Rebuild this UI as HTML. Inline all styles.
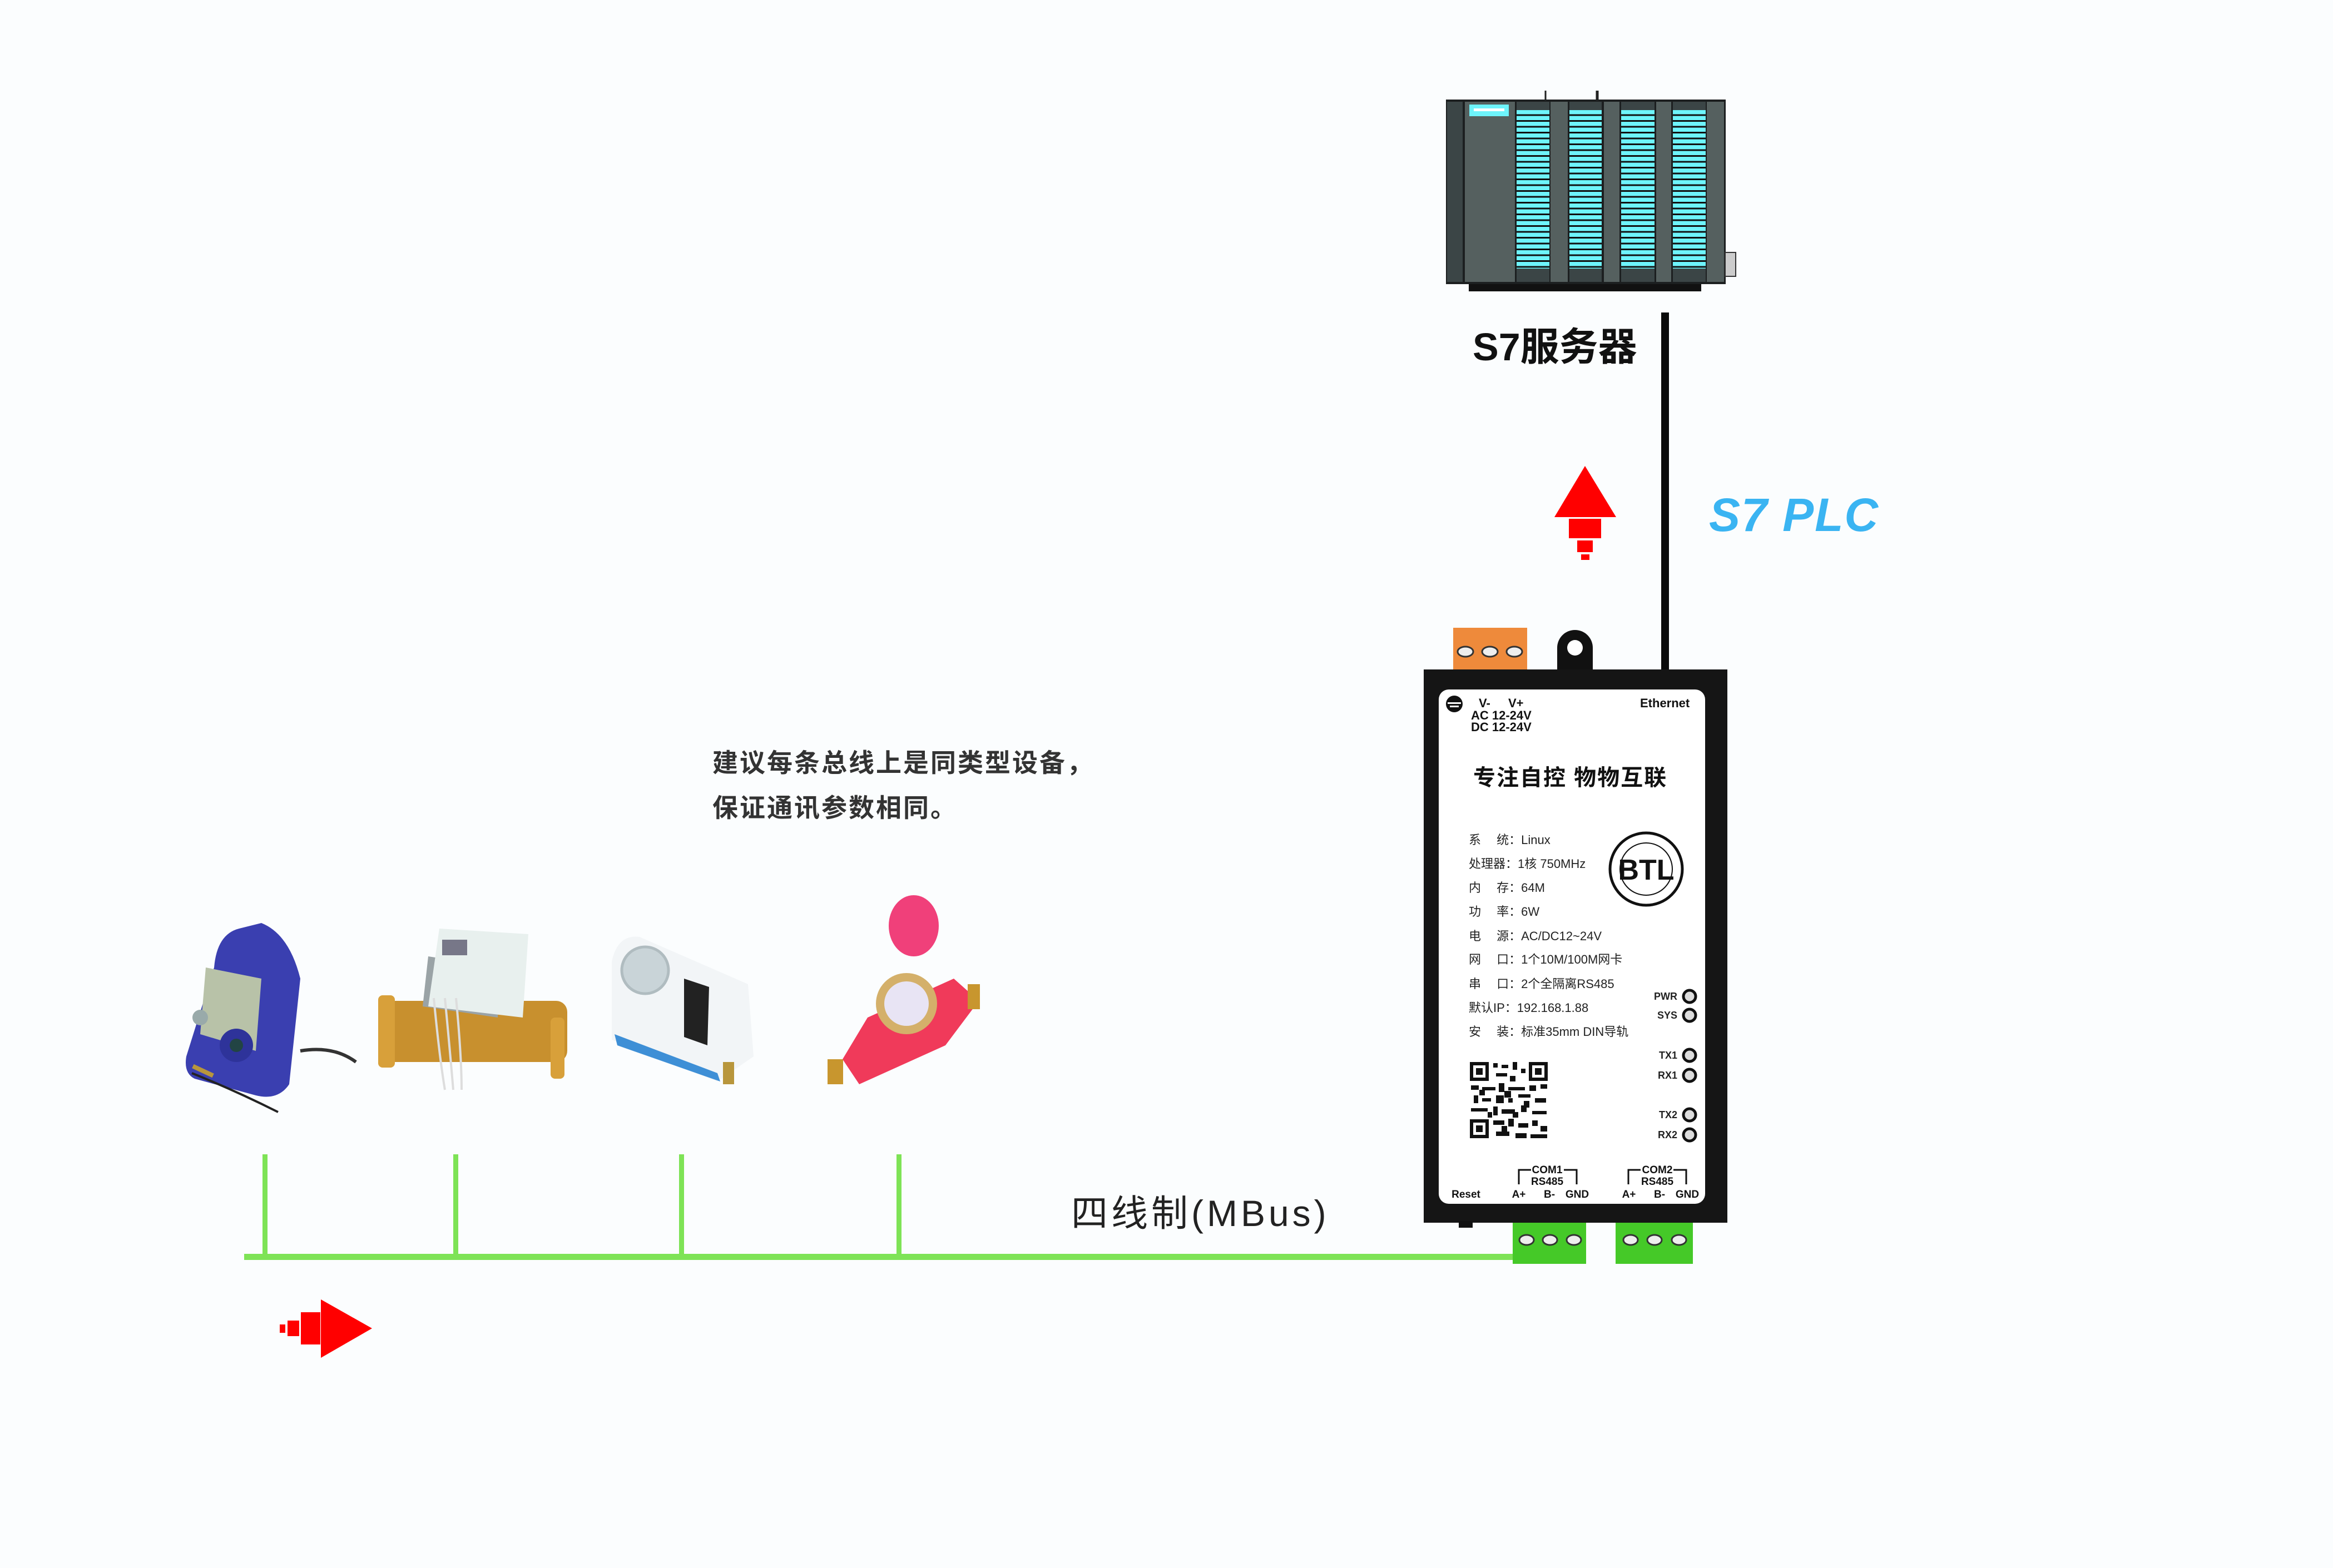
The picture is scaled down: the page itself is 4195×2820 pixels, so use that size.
<!DOCTYPE html>
<html><head><meta charset="utf-8">
<style>
html,body{margin:0;padding:0;background:#fbfdfe;}
svg{display:block;}
text{font-family:"Liberation Sans","Noto Sans CJK SC",sans-serif;}
</style></head>
<body>
<svg width="4195" height="2820" viewBox="0 0 4195 2820" xmlns="http://www.w3.org/2000/svg">
<rect width="4195" height="2820" fill="#fbfdfe"/>
<defs>
<pattern id="stripe" x="0" y="198" width="10" height="10.5" patternUnits="userSpaceOnUse">
<rect width="10" height="10.5" fill="#111"/><rect y="0" width="10" height="7.5" fill="#6ef4fb"/>
</pattern>
</defs>

<!-- PLC rack -->
<line x1="2779" y1="163" x2="2779" y2="180" stroke="#222" stroke-width="3"/>
<line x1="2872" y1="163" x2="2872" y2="180" stroke="#222" stroke-width="5"/>
<rect x="2641" y="510" width="418" height="14" fill="#111"/>
<rect x="2600" y="179" width="503" height="332" fill="#1c1f20"/>
<rect x="2602" y="183" width="28" height="324" fill="#3b4546"/>
<rect x="2634" y="183" width="90" height="324" fill="#55605f"/>
<rect x="2642" y="188" width="71" height="21" fill="#6ef4fb"/>
<rect x="2650" y="195" width="55" height="5" fill="#fff"/>
<g>
<rect x="2727" y="183" width="59" height="324" fill="#3b4546"/>
<rect x="2727" y="198" width="59" height="285" fill="url(#stripe)"/>
<rect x="2788" y="183" width="31" height="324" fill="#55605f"/>
<rect x="2822" y="183" width="58" height="324" fill="#3b4546"/>
<rect x="2822" y="198" width="58" height="285" fill="url(#stripe)"/>
<rect x="2884" y="183" width="28" height="324" fill="#55605f"/>
<rect x="2915" y="183" width="60" height="324" fill="#3b4546"/>
<rect x="2915" y="198" width="60" height="285" fill="url(#stripe)"/>
<rect x="2978" y="183" width="27" height="324" fill="#55605f"/>
<rect x="3008" y="183" width="59" height="324" fill="#3b4546"/>
<rect x="3008" y="198" width="59" height="285" fill="url(#stripe)"/>
<rect x="3069" y="183" width="31" height="324" fill="#55605f"/>
</g>
<rect x="3102" y="454" width="19" height="43" fill="#ccc" stroke="#333" stroke-width="2"/>
<text x="2648" y="648" font-size="70" font-weight="bold" fill="#111">S7服务器</text>

<!-- Ethernet line -->
<rect x="2987" y="562" width="14" height="645" fill="#0a0a0a"/>
<text x="3073" y="955" font-size="84" font-weight="bold" font-style="italic" fill="#3ab4f2" letter-spacing="2">S7 PLC</text>

<!-- red up arrow -->
<g fill="#f00">
<polygon points="2850,838 2906,930 2795,930"/>
<rect x="2821" y="933" width="58" height="35"/>
<rect x="2836" y="972" width="28" height="21"/>
<rect x="2843" y="997" width="15" height="10"/>
</g>

<!-- device -->
<rect x="2613" y="1129" width="133" height="76" fill="#ee8a3b"/>
<g fill="#eee" stroke="#333" stroke-width="3">
<ellipse cx="2635" cy="1172" rx="14" ry="9"/><ellipse cx="2679" cy="1172" rx="14" ry="9"/><ellipse cx="2723" cy="1172" rx="14" ry="9"/>
</g>
<path d="M2800,1205 L2800,1165 A32,32 0 0 1 2864,1165 L2864,1205 Z" fill="#111"/>
<circle cx="2832" cy="1165" r="14" fill="#fff"/>
<rect x="2560" y="1204" width="546" height="995" fill="#151515"/>
<rect x="2587" y="1240" width="479" height="925" rx="18" fill="#fff"/>
<rect x="2623" y="2196" width="25" height="12" fill="#111"/>

<g fill="#111" font-weight="bold">
<circle cx="2615" cy="1266" r="15" fill="#111"/>
<rect x="2603" y="1263" width="24" height="3" fill="#fff"/><rect x="2607" y="1269" width="16" height="3" fill="#fff"/>
<text x="2659" y="1272" font-size="22">V-</text><text x="2712" y="1272" font-size="22">V+</text>
<text x="2645" y="1294" font-size="22">AC 12-24V</text>
<text x="2645" y="1315" font-size="22">DC 12-24V</text>
<text x="2949" y="1272" font-size="22">Ethernet</text>
<text x="2649" y="1412" font-size="40" letter-spacing="2">专注自控 物物互联</text>
</g>
<g fill="#222" font-size="22">
<text x="2641" y="1518">系　 统：Linux</text>
<text x="2641" y="1561">处理器：1核 750MHz</text>
<text x="2641" y="1604">内　 存：64M</text>
<text x="2641" y="1647">功　 率：6W</text>
<text x="2641" y="1691">电　 源：AC/DC12~24V</text>
<text x="2641" y="1733">网　 口：1个10M/100M网卡</text>
<text x="2641" y="1777">串　 口：2个全隔离RS485</text>
<text x="2641" y="1820">默认IP：192.168.1.88</text>
<text x="2641" y="1863">安　 装：标准35mm DIN导轨</text>
</g>
<!-- BTL -->
<circle cx="2960" cy="1563" r="65" fill="none" stroke="#111" stroke-width="5"/>
<circle cx="2960" cy="1563" r="47" fill="none" stroke="#111" stroke-width="2"/>
<text x="2960" y="1582" font-size="52" font-weight="bold" text-anchor="middle" fill="#111">BTL</text>
<!-- QR -->
<rect x="2643" y="1910" width="140" height="137" fill="#fff"/>
<g fill="#111">
<rect x="2643" y="1910" width="34" height="34"/><rect x="2649" y="1916" width="22" height="22" fill="#fff"/><rect x="2654" y="1921" width="12" height="12"/>
<rect x="2749" y="1910" width="34" height="34"/><rect x="2755" y="1916" width="22" height="22" fill="#fff"/><rect x="2760" y="1921" width="12" height="12"/>
<rect x="2643" y="2013" width="34" height="34"/><rect x="2649" y="2019" width="22" height="22" fill="#fff"/><rect x="2654" y="2024" width="12" height="12"/>
<rect x="2685" y="1912" width="8" height="8"/><rect x="2700" y="1915" width="12" height="6"/><rect x="2720" y="1910" width="8" height="14"/><rect x="2735" y="1922" width="8" height="8"/>
<rect x="2690" y="1930" width="20" height="6"/><rect x="2715" y="1935" width="10" height="10"/><rect x="2645" y="1952" width="14" height="8"/>
<rect x="2665" y="1955" width="24" height="6"/><rect x="2695" y="1948" width="10" height="16"/><rect x="2712" y="1955" width="30" height="6"/>
<rect x="2750" y="1952" width="12" height="10"/><rect x="2770" y="1950" width="12" height="8"/><rect x="2650" y="1970" width="8" height="14"/>
<rect x="2665" y="1975" width="16" height="6"/><rect x="2690" y="1970" width="14" height="14"/><rect x="2712" y="1975" width="8" height="8"/>
<rect x="2730" y="1968" width="22" height="6"/><rect x="2760" y="1975" width="20" height="8"/><rect x="2645" y="1993" width="30" height="6"/>
<rect x="2685" y="1990" width="8" height="16"/><rect x="2700" y="1995" width="24" height="8"/><rect x="2735" y="1988" width="10" height="12"/>
<rect x="2755" y="1998" width="26" height="6"/><rect x="2685" y="2015" width="20" height="8"/><rect x="2712" y="2012" width="10" height="14"/>
<rect x="2730" y="2020" width="18" height="8"/><rect x="2755" y="2015" width="10" height="10"/><rect x="2770" y="2025" width="12" height="10"/>
<rect x="2690" y="2035" width="24" height="8"/><rect x="2725" y="2038" width="20" height="9"/><rect x="2752" y="2040" width="30" height="7"/>
<rect x="2660" y="1960" width="10" height="10"/><rect x="2705" y="1962" width="12" height="12"/><rect x="2740" y="1980" width="10" height="12"/>
<rect x="2675" y="2000" width="8" height="10"/><rect x="2720" y="2000" width="10" height="10"/><rect x="2700" y="2025" width="10" height="10"/>
</g>
<!-- LEDs -->
<g font-size="18" font-weight="bold" fill="#222" text-anchor="end">
<text x="3016" y="1798">PWR</text><text x="3016" y="1832">SYS</text>
<text x="3016" y="1904">TX1</text><text x="3016" y="1940">RX1</text>
<text x="3016" y="2011">TX2</text><text x="3016" y="2047">RX2</text>
</g>
<g fill="#ddd" stroke="#111" stroke-width="5">
<circle cx="3038" cy="1792" r="11"/><circle cx="3038" cy="1826" r="11"/>
<circle cx="3038" cy="1898" r="11"/><circle cx="3038" cy="1934" r="11"/>
<circle cx="3038" cy="2005" r="11"/><circle cx="3038" cy="2041" r="11"/>
</g>
<!-- COM labels -->
<g fill="none" stroke="#111" stroke-width="3">
<path d="M2731,2130 V2104 H2753 M2812,2104 H2835 V2130"/>
<path d="M2928,2130 V2104 H2950 M3009,2104 H3032 V2130"/>
</g>
<g font-size="19" font-weight="bold" fill="#111" text-anchor="middle">
<text x="2782" y="2110">COM1</text><text x="2782" y="2131">RS485</text>
<text x="2980" y="2110">COM2</text><text x="2980" y="2131">RS485</text>
<text x="2636" y="2154">Reset</text>
<text x="2731" y="2154">A+</text><text x="2786" y="2154">B-</text><text x="2836" y="2154">GND</text>
<text x="2929" y="2154">A+</text><text x="2984" y="2154">B-</text><text x="3034" y="2154">GND</text>
</g>

<!-- green bus -->
<rect x="439" y="2255" width="2285" height="11" fill="#7ee356"/>
<g fill="#7ee356">
<rect x="472" y="2076" width="9" height="182"/>
<rect x="815" y="2076" width="9" height="182"/>
<rect x="1221" y="2076" width="9" height="182"/>
<rect x="1612" y="2076" width="9" height="182"/>
</g>
<!-- green terminals -->
<rect x="2720" y="2199" width="132" height="74" fill="#45c928"/>
<rect x="2905" y="2199" width="139" height="74" fill="#45c928"/>
<g fill="#eee" stroke="#333" stroke-width="3">
<ellipse cx="2745" cy="2230" rx="13" ry="9"/><ellipse cx="2787" cy="2230" rx="13" ry="9"/><ellipse cx="2830" cy="2230" rx="13" ry="9"/>
<ellipse cx="2932" cy="2230" rx="13" ry="9"/><ellipse cx="2975" cy="2230" rx="13" ry="9"/><ellipse cx="3019" cy="2230" rx="13" ry="9"/>
</g>
<text x="1926" y="2205" font-size="66" fill="#222" letter-spacing="6" font-family="'DejaVu Sans','Noto Sans CJK SC',sans-serif">四线制(MBus)</text>

<!-- notes -->
<g font-size="46" fill="#333" letter-spacing="3" font-weight="bold">
<text x="1281" y="1388">建议每条总线上是同类型设备，</text>
<text x="1281" y="1469">保证通讯参数相同。</text>
</g>

<!-- red right arrow -->
<g fill="#f00">
<polygon points="669,2389 577,2337 577,2442"/>
<rect x="541" y="2360" width="35" height="58"/>
<rect x="517" y="2375" width="21" height="28"/>
<rect x="503" y="2382" width="10" height="15"/>
</g>

<!-- meter 1: blue heat meter -->
<g>
<path d="M385,1740 Q390,1680 430,1670 L470,1660 Q520,1680 540,1760 L520,1950 Q500,1980 460,1970 L350,1940 Q330,1930 335,1900 Z" fill="#3a3fb0"/>
<path d="M370,1740 L470,1760 L460,1890 L360,1860 Z" fill="#b8c2a8"/>
<circle cx="360" cy="1830" r="14" fill="#9aa"/>
<circle cx="425" cy="1880" r="30" fill="#2e339a"/>
<circle cx="425" cy="1880" r="12" fill="#244"/>
<path d="M540,1890 Q600,1880 640,1910" stroke="#333" stroke-width="6" fill="none"/>
<path d="M345,1930 Q420,1960 500,2000" stroke="#222" stroke-width="4" fill="none"/>
<rect x="345" y="1922" width="40" height="8" fill="#b8963c" transform="rotate(25 365 1926)"/>
</g>
<!-- meter 2: ultrasonic brass -->
<g>
<rect x="690" y="1800" width="330" height="110" rx="20" fill="#c8902e"/>
<rect x="680" y="1790" width="30" height="130" rx="8" fill="#d8a03a"/>
<rect x="990" y="1830" width="25" height="110" rx="8" fill="#d8a03a"/>
<path d="M770,1720 L900,1740 L895,1830 L760,1810 Z" fill="#9aa3a6"/>
<path d="M790,1670 L950,1680 L940,1830 L770,1810 Z" fill="#e8f0ee"/>
<rect x="795" y="1690" width="45" height="28" fill="#778"/>
<path d="M780,1795 Q790,1900 800,1960 M800,1795 Q810,1900 815,1960 M820,1795 Q830,1900 830,1960" stroke="#ddd" stroke-width="4" fill="none"/>
</g>
<!-- meter 3: blue-white water meter -->
<g>
<path d="M1100,1730 Q1110,1680 1150,1685 L1345,1770 L1355,1900 L1290,1945 L1100,1870 Z" fill="#f2f5f7"/>
<path d="M1105,1860 L1290,1930 L1295,1945 L1110,1880 Z" fill="#3e8fd6"/>
<circle cx="1160" cy="1745" r="42" fill="#c9d4d8" stroke="#b0bcc0" stroke-width="5"/>
<path d="M1230,1760 L1275,1775 L1272,1880 L1230,1865 Z" fill="#222"/>
<rect x="1300" y="1910" width="20" height="40" fill="#b8963c"/>
</g>
<!-- meter 4: red water meter -->
<g>
<ellipse cx="1643" cy="1665" rx="45" ry="55" fill="#f0407a"/>
<path d="M1515,1905 L1560,1830 L1715,1760 L1760,1800 L1700,1880 L1545,1950 Z" fill="#f03a5a"/>
<circle cx="1630" cy="1805" r="55" fill="#d4b06a"/>
<circle cx="1630" cy="1805" r="40" fill="#e8e4f4"/>
<rect x="1488" y="1905" width="28" height="45" fill="#c8962e"/>
<rect x="1740" y="1770" width="22" height="45" fill="#c8962e"/>
</g>
</svg>
</body></html>
